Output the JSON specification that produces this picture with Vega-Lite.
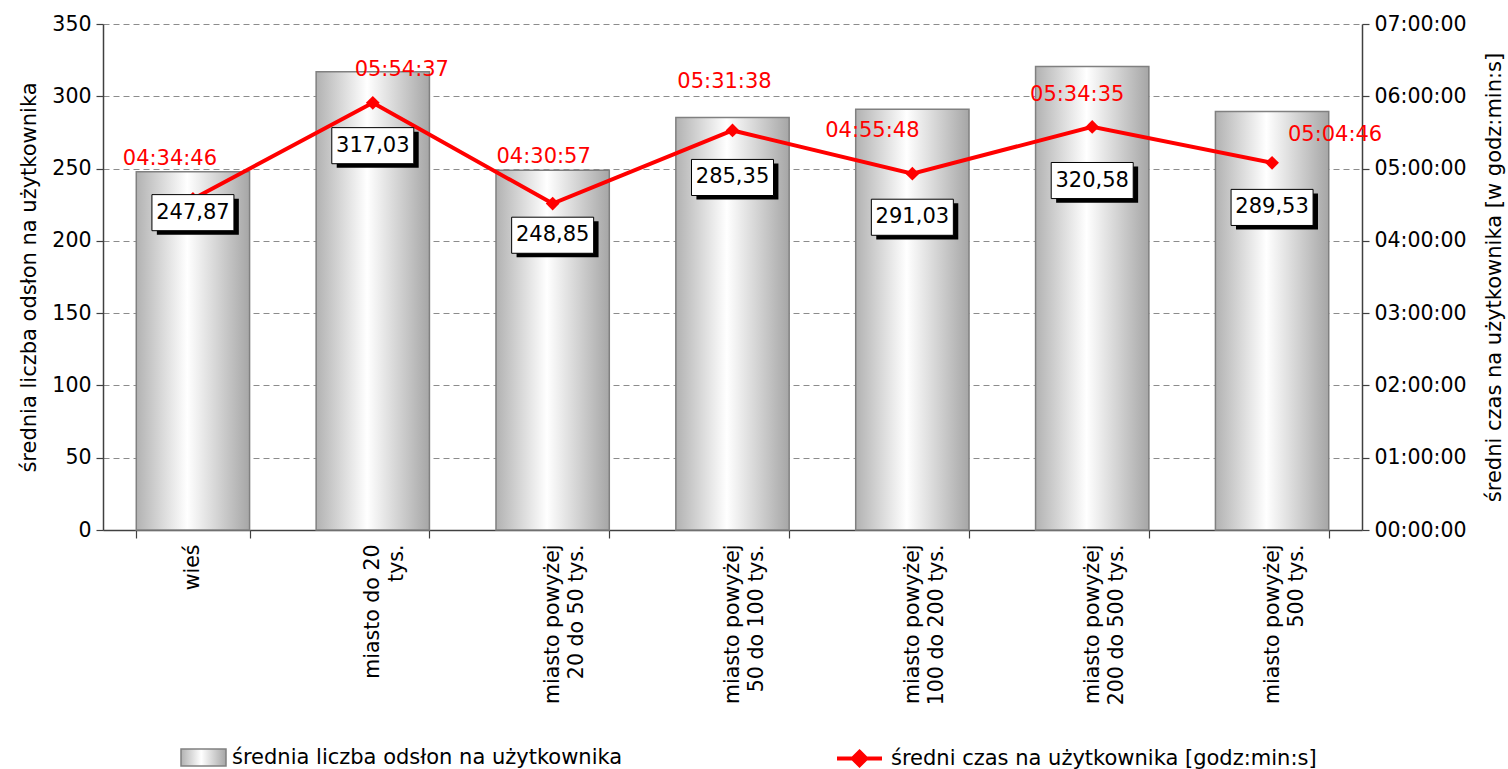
{
  "$schema": "https://vega.github.io/schema/vega-lite/v6.json",
  "width": 1259,
  "height": 506,
  "autosize": {"type": "none"},
  "padding": {"left": 103, "top": 24, "right": 146, "bottom": 239},
  "background": "white",
  "config": {
    "font": "DejaVu Sans",
    "view": {"stroke": null},
    "axis": {
      "labelFont": "DejaVu Sans",
      "titleFont": "DejaVu Sans",
      "labelFontSize": 20.5,
      "titleFontSize": 21,
      "titleFontWeight": "normal",
      "labelColor": "#000000",
      "titleColor": "#000000",
      "domainColor": "#404040",
      "tickColor": "#404040",
      "domainWidth": 1.5,
      "tickWidth": 1.2
    },
    "legend": {"labelFont": "DejaVu Sans", "labelFontSize": 21, "labelColor": "#000000", "labelLimit": 0}
  },
  "data": {
    "values": [
      {"kategoria": "wieś", "odslony": 247.87, "etykieta": "247,87", "czas_s": 16486, "czas": "04:34:46"},
      {"kategoria": "miasto do 20 tys.", "odslony": 317.03, "etykieta": "317,03", "czas_s": 21277, "czas": "05:54:37"},
      {"kategoria": "miasto powyżej 20 do 50 tys.", "odslony": 248.85, "etykieta": "248,85", "czas_s": 16257, "czas": "04:30:57"},
      {"kategoria": "miasto powyżej 50 do 100 tys.", "odslony": 285.35, "etykieta": "285,35", "czas_s": 19898, "czas": "05:31:38"},
      {"kategoria": "miasto powyżej 100 do 200 tys.", "odslony": 291.03, "etykieta": "291,03", "czas_s": 17748, "czas": "04:55:48"},
      {"kategoria": "miasto powyżej 200 do 500 tys.", "odslony": 320.58, "etykieta": "320,58", "czas_s": 20075, "czas": "05:34:35"},
      {"kategoria": "miasto powyżej 500 tys.", "odslony": 289.53, "etykieta": "289,53", "czas_s": 18286, "czas": "05:04:46"}
    ]
  },
  "encoding": {
    "x": {
      "field": "kategoria",
      "type": "nominal",
      "sort": null,
      "scale": {"paddingInner": 0.37, "paddingOuter": 0.185},
      "axis": {
        "title": null,
        "labelAngle": 270,
        "labelAlign": "right",
        "labelBaseline": "middle",
        "labelLineHeight": 24,
        "tickBand": "extent",
        "tickSize": 8,
        "labelPadding": 6,
        "labelExpr": "datum.label == 'miasto do 20 tys.' ? ['miasto do 20', 'tys.\u00a0\u00a0\u00a0\u00a0\u00a0\u00a0\u00a0'] : datum.label == 'miasto powyżej 20 do 50 tys.' ? ['miasto powyżej', '20 do 50 tys.\u00a0\u00a0'] : datum.label == 'miasto powyżej 50 do 100 tys.' ? ['miasto powyżej', '50 do 100 tys.\u00a0'] : datum.label == 'miasto powyżej 100 do 200 tys.' ? ['miasto powyżej', '100 do 200 tys.'] : datum.label == 'miasto powyżej 200 do 500 tys.' ? ['miasto powyżej', '200 do 500 tys.'] : datum.label == 'miasto powyżej 500 tys.' ? ['miasto powyżej', '500 tys.\u00a0\u00a0\u00a0\u00a0\u00a0\u00a0'] : datum.label"
      }
    }
  },
  "layer": [
    {
      "mark": {
        "type": "bar",
        "fill": {
          "gradient": "linear",
          "x1": 0, "y1": 0, "x2": 1, "y2": 0,
          "stops": [
            {"offset": 0, "color": "#b2b2b2"},
            {"offset": 0.45, "color": "#ffffff"},
            {"offset": 1, "color": "#a6a6a6"}
          ]
        },
        "strokeWidth": 1.5
      },
      "encoding": {
        "y": {
          "field": "odslony",
          "type": "quantitative",
          "scale": {"domain": [0, 350], "nice": false},
          "axis": {
            "orient": "left",
            "values": [0, 50, 100, 150, 200, 250, 300, 350],
            "title": "średnia liczba odsłon na użytkownika",
            "grid": true,
            "gridColor": "#8c8c8c",
            "gridDash": [6, 4],
            "tickSize": 7,
            "labelPadding": 5,
            "titlePadding": 12
          }
        },
        "stroke": {
          "datum": "średnia liczba odsłon na użytkownika",
          "scale": {"range": ["#808080"]},
          "legend": {
            "title": null,
            "orient": "none",
            "legendX": 77,
            "legendY": 710,
            "symbolType": "M-1,-0.38H1V0.38H-1Z",
            "symbolSize": 2025,
            "symbolFillColor": "#d8d8d8",
            "symbolStrokeWidth": 1.5,
            "labelOffset": 5,
            "labelLimit": 0
          }
        }
      }
    },
    {
      "encoding": {
        "y": {
          "field": "czas_s",
          "type": "quantitative",
          "scale": {"domain": [0, 25200], "nice": false},
          "axis": {
            "orient": "right",
            "values": [0, 3600, 7200, 10800, 14400, 18000, 21600, 25200],
            "labelExpr": "utcFormat(datum.value * 1000, '%H:%M:%S')",
            "title": "średni czas na użytkownika [w godz:min:s]",
            "titleAngle": 270,
            "titleLimit": 0,
            "grid": false,
            "tickSize": 7,
            "labelPadding": 5,
            "titlePadding": 38
          }
        }
      },
      "layer": [
        {
          "mark": {"type": "line", "strokeWidth": 4},
          "encoding": {
            "stroke": {
              "datum": "średni czas na użytkownika [godz:min:s]",
              "scale": {"range": ["#ff0000"]},
              "legend": {
                "title": null,
                "orient": "none",
                "legendX": 732,
                "legendY": 710,
                "symbolType": "M-1,0H1M0,-0.3L0.3,0L0,0.3L-0.3,0Z",
                "symbolSize": 2025,
                "symbolFillColor": "#ff0000",
                "symbolStrokeWidth": 4,
                "labelOffset": 7,
                "labelLimit": 0
              }
            }
          }
        },
        {"mark": {"type": "point", "shape": "diamond", "filled": true, "color": "#ff0000", "size": 190, "opacity": 1}},
        {"transform": [{"filter": "datum.kategoria == 'wieś'"}], "mark": {"type": "text", "color": "#ff0000", "fontSize": 21, "dx": -23, "dy": -40}, "encoding": {"text": {"field": "czas"}}},
        {"transform": [{"filter": "datum.kategoria == 'miasto do 20 tys.'"}], "mark": {"type": "text", "color": "#ff0000", "fontSize": 21, "dx": 29, "dy": -33}, "encoding": {"text": {"field": "czas"}}},
        {"transform": [{"filter": "datum.kategoria == 'miasto powyżej 20 do 50 tys.'"}], "mark": {"type": "text", "color": "#ff0000", "fontSize": 21, "dx": -9, "dy": -47}, "encoding": {"text": {"field": "czas"}}},
        {"transform": [{"filter": "datum.kategoria == 'miasto powyżej 50 do 100 tys.'"}], "mark": {"type": "text", "color": "#ff0000", "fontSize": 21, "dx": -8, "dy": -48}, "encoding": {"text": {"field": "czas"}}},
        {"transform": [{"filter": "datum.kategoria == 'miasto powyżej 100 do 200 tys.'"}], "mark": {"type": "text", "color": "#ff0000", "fontSize": 21, "dx": -40, "dy": -43}, "encoding": {"text": {"field": "czas"}}},
        {"transform": [{"filter": "datum.kategoria == 'miasto powyżej 200 do 500 tys.'"}], "mark": {"type": "text", "color": "#ff0000", "fontSize": 21, "dx": -15, "dy": -32}, "encoding": {"text": {"field": "czas"}}},
        {"transform": [{"filter": "datum.kategoria == 'miasto powyżej 500 tys.'"}], "mark": {"type": "text", "color": "#ff0000", "fontSize": 21, "dx": 63, "dy": -28}, "encoding": {"text": {"field": "czas"}}}
      ]
    },
    {
      "encoding": {
        "y": {"field": "odslony", "type": "quantitative", "scale": {"domain": [0, 350], "nice": false}, "axis": null}
      },
      "layer": [
        {
          "transform": [{"filter": "datum.kategoria == 'wieś'"}],
          "layer": [
            {"mark": {"type": "point", "shape": "M-0.88,-0.34H1.12V0.54H-0.88Z", "size": 6724, "filled": true, "color": "#000000", "opacity": 1}, "encoding": {"yOffset": {"value": 41}}},
            {"mark": {"type": "point", "shape": "M-1,-0.44H1V0.44H-1Z", "size": 6724, "filled": true, "fill": "#ffffff", "stroke": "#000000", "strokeWidth": 1, "opacity": 1}, "encoding": {"yOffset": {"value": 41}}},
            {"mark": {"type": "text", "fontSize": 21, "color": "#000000", "dy": 41}, "encoding": {"text": {"field": "etykieta"}}}
          ]
        },
        {
          "transform": [{"filter": "datum.kategoria == 'miasto do 20 tys.'"}],
          "layer": [
            {"mark": {"type": "point", "shape": "M-0.88,-0.34H1.12V0.54H-0.88Z", "size": 6724, "filled": true, "color": "#000000", "opacity": 1}, "encoding": {"yOffset": {"value": 74}}},
            {"mark": {"type": "point", "shape": "M-1,-0.44H1V0.44H-1Z", "size": 6724, "filled": true, "fill": "#ffffff", "stroke": "#000000", "strokeWidth": 1, "opacity": 1}, "encoding": {"yOffset": {"value": 74}}},
            {"mark": {"type": "text", "fontSize": 21, "color": "#000000", "dy": 74}, "encoding": {"text": {"field": "etykieta"}}}
          ]
        },
        {
          "transform": [{"filter": "datum.kategoria == 'miasto powyżej 20 do 50 tys.'"}],
          "layer": [
            {"mark": {"type": "point", "shape": "M-0.88,-0.34H1.12V0.54H-0.88Z", "size": 6724, "filled": true, "color": "#000000", "opacity": 1}, "encoding": {"yOffset": {"value": 65}}},
            {"mark": {"type": "point", "shape": "M-1,-0.44H1V0.44H-1Z", "size": 6724, "filled": true, "fill": "#ffffff", "stroke": "#000000", "strokeWidth": 1, "opacity": 1}, "encoding": {"yOffset": {"value": 65}}},
            {"mark": {"type": "text", "fontSize": 21, "color": "#000000", "dy": 65}, "encoding": {"text": {"field": "etykieta"}}}
          ]
        },
        {
          "transform": [{"filter": "datum.kategoria == 'miasto powyżej 50 do 100 tys.'"}],
          "layer": [
            {"mark": {"type": "point", "shape": "M-0.88,-0.34H1.12V0.54H-0.88Z", "size": 6724, "filled": true, "color": "#000000", "opacity": 1}, "encoding": {"yOffset": {"value": 60}}},
            {"mark": {"type": "point", "shape": "M-1,-0.44H1V0.44H-1Z", "size": 6724, "filled": true, "fill": "#ffffff", "stroke": "#000000", "strokeWidth": 1, "opacity": 1}, "encoding": {"yOffset": {"value": 60}}},
            {"mark": {"type": "text", "fontSize": 21, "color": "#000000", "dy": 60}, "encoding": {"text": {"field": "etykieta"}}}
          ]
        },
        {
          "transform": [{"filter": "datum.kategoria == 'miasto powyżej 100 do 200 tys.'"}],
          "layer": [
            {"mark": {"type": "point", "shape": "M-0.88,-0.34H1.12V0.54H-0.88Z", "size": 6724, "filled": true, "color": "#000000", "opacity": 1}, "encoding": {"yOffset": {"value": 108}}},
            {"mark": {"type": "point", "shape": "M-1,-0.44H1V0.44H-1Z", "size": 6724, "filled": true, "fill": "#ffffff", "stroke": "#000000", "strokeWidth": 1, "opacity": 1}, "encoding": {"yOffset": {"value": 108}}},
            {"mark": {"type": "text", "fontSize": 21, "color": "#000000", "dy": 108}, "encoding": {"text": {"field": "etykieta"}}}
          ]
        },
        {
          "transform": [{"filter": "datum.kategoria == 'miasto powyżej 200 do 500 tys.'"}],
          "layer": [
            {"mark": {"type": "point", "shape": "M-0.88,-0.34H1.12V0.54H-0.88Z", "size": 6724, "filled": true, "color": "#000000", "opacity": 1}, "encoding": {"yOffset": {"value": 114}}},
            {"mark": {"type": "point", "shape": "M-1,-0.44H1V0.44H-1Z", "size": 6724, "filled": true, "fill": "#ffffff", "stroke": "#000000", "strokeWidth": 1, "opacity": 1}, "encoding": {"yOffset": {"value": 114}}},
            {"mark": {"type": "text", "fontSize": 21, "color": "#000000", "dy": 114}, "encoding": {"text": {"field": "etykieta"}}}
          ]
        },
        {
          "transform": [{"filter": "datum.kategoria == 'miasto powyżej 500 tys.'"}],
          "layer": [
            {"mark": {"type": "point", "shape": "M-0.88,-0.34H1.12V0.54H-0.88Z", "size": 6724, "filled": true, "color": "#000000", "opacity": 1}, "encoding": {"yOffset": {"value": 96}}},
            {"mark": {"type": "point", "shape": "M-1,-0.44H1V0.44H-1Z", "size": 6724, "filled": true, "fill": "#ffffff", "stroke": "#000000", "strokeWidth": 1, "opacity": 1}, "encoding": {"yOffset": {"value": 96}}},
            {"mark": {"type": "text", "fontSize": 21, "color": "#000000", "dy": 96}, "encoding": {"text": {"field": "etykieta"}}}
          ]
        }
      ]
    }
  ],
  "resolve": {
    "scale": {"y": "independent", "stroke": "independent"},
    "axis": {"y": "independent"},
    "legend": {"stroke": "independent"}
  }
}
